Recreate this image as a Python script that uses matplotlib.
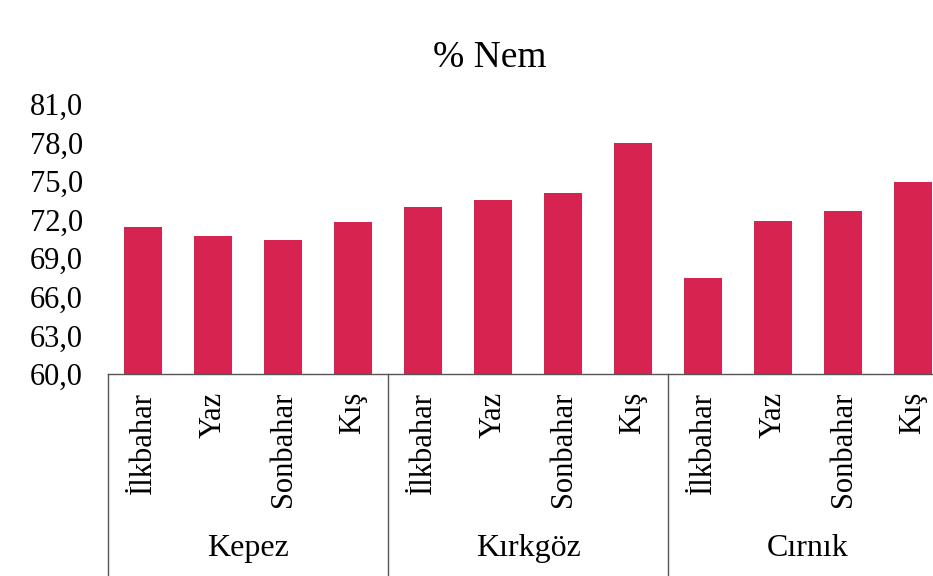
import matplotlib
matplotlib.use("Agg")
import matplotlib.pyplot as plt
from matplotlib.ticker import FuncFormatter

# data
groups = ["Kepez", "Kırkgöz", "Cırnık"]
seasons = ["İlkbahar", "Yaz", "Sonbahar", "Kış"]
kepez = [71.4, 70.7, 70.4, 71.8]
kirkgoz = [73.0, 73.5, 74.1, 78.0]
cirnik = [67.5, 71.9, 72.7, 74.9]
yticks = [60, 63, 66, 69, 72, 75, 78, 81]

plt.rcParams['font.family'] = ['Liberation Serif', 'DejaVu Serif']

values = kepez + kirkgoz + cirnik
labels = seasons * len(groups)
x = list(range(len(values)))

fig = plt.figure(figsize=(9.33, 5.76), dpi=100)
ax = fig.add_axes([0.1158, 0.3507, 0.9003, 0.4688])

ax.bar(x, values, width=0.53, color='#D62350')
ax.set_ylim(60, 81)
ax.set_xlim(-0.5, len(values) - 0.5)
ax.set_yticks(yticks)
ax.yaxis.set_major_formatter(FuncFormatter(lambda v, p: f"{v:.1f}".replace('.', ',')))
ax.tick_params(axis='y', length=0, pad=18, labelsize=22)
ax.set_xticks(x)
ax.set_xticklabels(labels, rotation=90, fontsize=22)
ax.tick_params(axis='x', length=0, pad=13)

for s in ['left', 'top', 'right']:
	ax.spines[s].set_visible(False)
ax.spines['bottom'].set_color('#555555')
ax.spines['bottom'].set_linewidth(1.0)

# group separators and group names under the axis
tr = ax.get_xaxis_transform()
for i in range(len(groups) + 1):
	xs = i * len(seasons) - 0.5
	ax.plot([xs, xs], [0, -0.9], color='#555555', lw=1.0, transform=tr, clip_on=False)
for i, g in enumerate(groups):
	xc = i * len(seasons) + (len(seasons) - 1) / 2
	ax.text(xc, -0.648, g, transform=tr, ha='center', va='center', fontsize=23)

fig.text(0.525, 0.90, "% Nem", ha='center', va='center', fontsize=27)

fig.savefig("out.png", dpi=100)
